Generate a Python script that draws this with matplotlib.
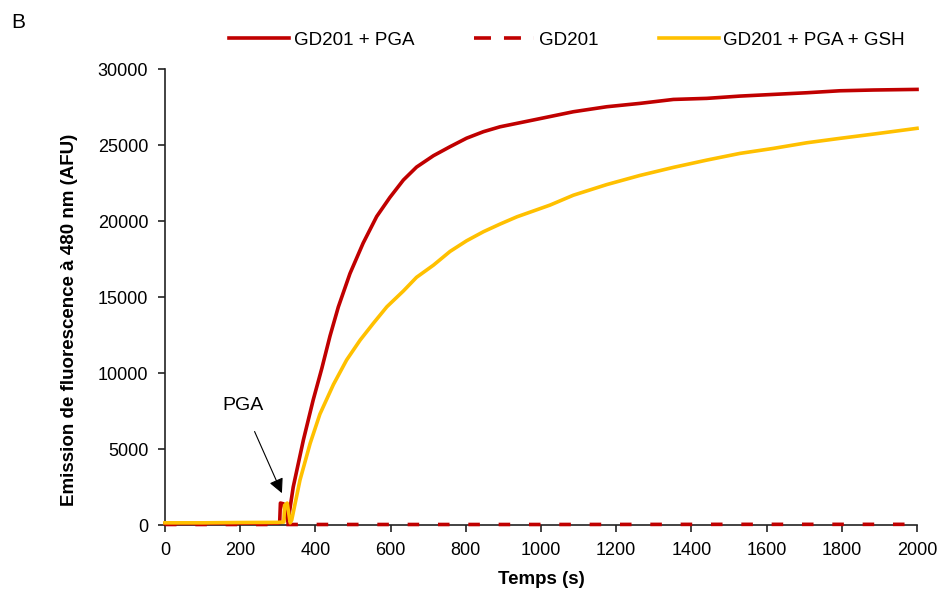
import matplotlib.pyplot as plt
from matplotlib.lines import Line2D

plt.rcParams['font.family'] = ['Liberation Sans', 'DejaVu Sans']

# GD201 + PGA
t_pga = [0, 100, 200, 300, 305, 307, 315, 327, 341, 368, 394, 417, 439, 461, 492,
         527, 563, 598, 634, 669, 714, 758, 802, 847, 891, 980, 1086, 1175, 1263,
         1352, 1441, 1529, 1618, 1707, 1795, 1884, 2000]
v_pga = [100, 110, 120, 130, 150, 1450, 1400, 200, 2500, 5590, 8220, 10300, 12450,
         14350, 16550, 18550, 20300, 21550, 22700, 23550, 24300, 24890, 25450, 25880,
         26200, 26650, 27190, 27520, 27740, 28000, 28070, 28220, 28330, 28440, 28570,
         28620, 28660]

# GD201 alone
t_gd = [0, 500, 1000, 1500, 2000]
v_gd = [40, 40, 40, 50, 50]

# GD201 + PGA + GSH
t_gsh = [0, 100, 200, 300, 316, 318, 325, 333, 337, 359, 386, 412, 448, 483, 519,
         554, 590, 634, 669, 714, 758, 802, 847, 891, 936, 1024, 1086, 1175, 1263,
         1352, 1441, 1529, 1618, 1707, 1795, 1884, 2000]
v_gsh = [150, 150, 170, 180, 200, 1300, 1450, 150, 330, 2960, 5370, 7300, 9250,
         10860, 12170, 13270, 14360, 15400, 16300, 17100, 18000, 18700, 19300, 19800,
         20280, 21050, 21700, 22400, 23000, 23530, 24010, 24450, 24780, 25150, 25440,
         25720, 26100]

red = '#C00000'
yellow = '#FFC000'
lw = 2.6

fig = plt.figure(figsize=(9.39, 5.90), dpi=100)
ax = fig.add_axes([0.1757, 0.110, 0.8009, 0.773])

ax.plot(t_pga, v_pga, color=red, lw=lw, zorder=3, clip_on=False)
ax.plot(t_gd, v_gd, color=red, lw=lw, dashes=(3.2, 5.2), zorder=2.8, clip_on=False)
ax.plot(t_gsh, v_gsh, color=yellow, lw=lw, zorder=4, clip_on=False)

ax.set_xlim(0, 2000)
ax.set_ylim(0, 30000)
ax.set_xticks(range(0, 2001, 200))
ax.set_yticks(range(0, 30001, 5000))
ax.spines['top'].set_visible(False)
ax.spines['right'].set_visible(False)
for s in ('left', 'bottom'):
    ax.spines[s].set_linewidth(1.2)
    ax.spines[s].set_color('#222222')
ax.tick_params(direction='out', length=5, width=1.2, pad=7, labelsize=13,
               colors='#222222', labelcolor='black')
ax.set_xlabel('Temps (s)', fontsize=13.5, fontweight='bold')
ax.xaxis.set_label_coords(0.5, -0.10)
ax.set_ylabel('Emission de fluorescence à 480 nm (AFU)', fontsize=13.5,
              fontweight='bold')
ax.yaxis.set_label_coords(-0.116, 0.45)

ax.annotate('PGA', xy=(311, 2100), xytext=(207, 7900), fontsize=14,
            ha='center', va='center',
            arrowprops=dict(arrowstyle='-|>', color='black', lw=0.8,
                            mutation_scale=22, shrinkA=12, shrinkB=0))

handles = [Line2D([], [], color=red, lw=lw),
           Line2D([], [], color=red, lw=lw, dashes=(4.7, 3.6)),
           Line2D([], [], color=yellow, lw=lw)]
labels = ['GD201 + PGA', 'GD201', 'GD201 + PGA + GSH']
fig.legend(handles, labels, loc='center', bbox_to_anchor=(0.604, 0.932), ncol=3,
           frameon=False, fontsize=13.5, handlelength=3.2, handletextpad=0.25,
           columnspacing=3.2)

fig.text(0.012, 0.962, 'B', fontsize=15, va='center')

fig.savefig('out.png', dpi=100)
